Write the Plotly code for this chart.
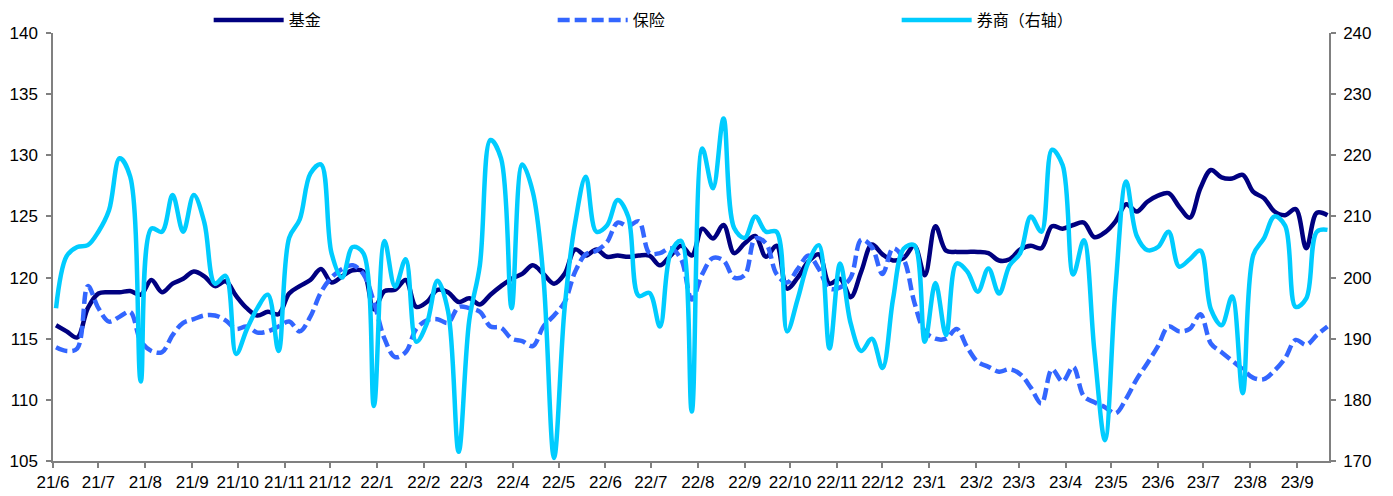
import pandas as pd
import plotly.graph_objects as go

# weekly dates
dates = pd.date_range("2021-06-06", periods=121, freq="7D")

fund = [116.1, 115.6, 115.1, 117.5, 118.7, 118.8, 118.8, 118.9, 118.6, 119.8,
        118.8, 119.5, 119.9, 120.5, 120.1, 119.3, 119.7, 118.5, 117.5, 116.9,
        117.2, 117.0, 118.7, 119.3, 119.8, 120.7, 119.6, 120.1, 120.6, 120.5,
        117.4, 118.9, 119.0, 119.8, 117.6, 118.0, 119.0, 118.8, 118.0, 118.3,
        117.8, 118.6, 119.3, 119.9, 120.3, 121.0, 120.3, 119.5, 120.3, 122.3,
        121.8, 122.3, 121.7, 121.8, 121.7, 121.8, 121.8, 121.0, 121.8, 122.6,
        121.8, 124.0, 123.2, 124.3, 122.0, 122.8, 123.4, 121.7, 122.6, 119.1,
        120.0, 121.3, 121.9, 119.5, 119.9,
        118.4, 120.5, 122.7, 121.9, 121.4, 121.6, 122.6, 120.2, 124.2, 122.2,
        122.1, 122.1, 122.1, 122.0, 121.4,
        121.5, 122.3, 122.6, 122.4, 124.2, 124.0, 124.3, 124.5, 123.3, 123.7,
        124.6, 126.0, 125.4, 126.2, 126.7,
        126.9, 125.8, 124.9, 127.3, 128.8, 128.2, 128.1, 128.4, 127.0, 126.5,
        125.4, 125.1, 125.6, 122.4, 125.3, 125.1]

insurance = [114.3, 114.0, 114.2, 119.3, 117.5, 116.4, 116.8, 117.2, 114.8, 114.0,
             113.9, 115.3, 116.3, 116.6, 116.9, 116.9, 116.5, 115.8, 116.0, 115.5,
             115.6, 116.0, 116.4, 115.6, 116.8, 118.8, 120.0, 120.7, 121.0, 120.3,
             118.0, 115.0, 113.5, 113.9, 115.8, 116.5, 116.6, 116.3, 117.6, 117.5,
             117.2, 116.0, 115.9, 115.0, 114.8, 114.4, 116.0, 116.9, 118.0, 120.5,
             121.9, 122.2, 122.9, 124.5, 124.2, 124.6, 122.0, 122.0, 122.4, 121.5,
             118.2, 120.3, 121.6, 121.4, 120.0, 120.2, 123.2, 122.8, 120.3, 119.6,
             120.7, 121.8, 120.7, 119.1, 119.2,
             120.0, 123.1, 122.5, 120.3, 122.4, 121.5, 118.0, 115.6, 115.0, 115.0,
             115.8, 114.3, 113.1, 112.7, 112.3,
             112.5, 112.1, 111.0, 109.7, 112.5, 111.5, 112.7, 110.3, 109.8, 109.4,
             108.9, 110.1, 111.7, 113.0, 114.4,
             116.0, 115.6, 115.8, 117.0, 114.6, 113.9, 113.2, 112.5, 111.8, 111.7,
             112.4, 113.4, 114.9, 114.5, 115.3, 116.0]

broker = [195.0, 203.5, 205.0, 205.3, 207.5, 211.0, 219.5, 216.5, 183.0, 208.0,
          207.5, 213.5, 207.5, 213.5, 209.0, 199.0, 200.3, 187.5, 191.5, 195.0,
          197.2, 188.0, 206.5, 209.5, 217.0, 218.5, 204.0, 200.0, 205.0, 204.0,
          179.0, 206.0, 198.5, 203.0, 189.5, 192.5, 199.5, 194.5, 171.5, 193.0,
          202.0, 222.5, 219.5, 195.0, 218.5, 214.0, 200.0, 170.5, 195.0, 209.0,
          216.5, 207.5, 208.5, 212.7, 210.0, 197.0, 197.5, 192.0, 204.0, 206.0,
          178.1, 221.1, 214.6, 226.0, 208.1, 206.5, 210.0, 207.5, 207.5, 191.2,
          196.5, 202.5, 205.3, 188.4, 202.3,
          192.5, 188.0, 190.0, 185.2, 196.5, 204.7, 205.3, 189.5, 199.1, 190.6,
          202.3, 201.0, 197.7, 201.5, 197.4,
          202.0, 204.0, 210.0, 207.5, 220.9, 218.4, 200.5, 206.1, 188.0, 173.4,
          198.5, 215.7, 206.8, 204.5, 205.0,
          207.5, 201.8, 203.0, 204.4, 194.8, 192.2, 196.9, 181.1, 203.7, 206.4,
          210.0, 208.5, 195.2, 196.6, 207.5, 207.8]

tick_labels = ["21/6", "21/7", "21/8", "21/9", "21/10", "21/11", "21/12",
               "22/1", "22/2", "22/3", "22/4", "22/5", "22/6", "22/7", "22/8",
               "22/9", "22/10", "22/11", "22/12", "23/1", "23/2", "23/3",
               "23/4", "23/5", "23/6", "23/7", "23/8", "23/9"]
tick_dates = pd.date_range("2021-06-04", periods=len(tick_labels),
                           freq=pd.DateOffset(months=1))

names = ["基金", "保险", "券商（右轴）"]

fig = go.Figure()
fig.add_trace(go.Scatter(x=dates, y=fund, name=names[0], mode="lines",
                         line=dict(color="#000080", width=4.5, shape="spline", smoothing=1)))
fig.add_trace(go.Scatter(x=dates, y=insurance, name=names[1], mode="lines",
                         line=dict(color="#3366FF", width=4.5, dash="12px,5px",
                                   shape="spline", smoothing=1)))
fig.add_trace(go.Scatter(x=dates, y=broker, name=names[2], mode="lines", yaxis="y2",
                         line=dict(color="#00CCFF", width=4.5, shape="spline", smoothing=1)))

axis_font = dict(family="Liberation Sans, Arial, sans-serif", size=17, color="#000000")

fig.update_layout(
    width=1393, height=496,
    margin=dict(l=45, r=72, t=25, b=43, autoexpand=False),
    plot_bgcolor="white", paper_bgcolor="white",
    showlegend=True,
    legend=dict(orientation="h", x=0.122, xanchor="left", y=1.03, yanchor="middle",
                entrywidth=259, entrywidthmode="pixels", itemwidth=70,
                font=dict(family="Noto Sans CJK SC", size=16, color="#000000"),
                bgcolor="rgba(0,0,0,0)"),
    xaxis=dict(type="date", range=[pd.Timestamp("2021-06-04"), pd.Timestamp("2023-09-25")],
               tickvals=tick_dates, ticktext=tick_labels, tickangle=0,
               showgrid=False, zeroline=False,
               showline=True, linecolor="#808080", linewidth=1.5,
               ticks="outside", ticklen=5, tickcolor="#808080", tickwidth=1.5,
               tickfont=axis_font),
    yaxis=dict(range=[105, 140], dtick=5, showgrid=False, zeroline=False,
               showline=True, linecolor="#808080", linewidth=1.5,
               ticks="outside", ticklen=5, tickcolor="#808080", tickwidth=1.5,
               tickfont=axis_font, ticklabelstandoff=5),
    yaxis2=dict(range=[170, 240], dtick=10, overlaying="y", side="right",
                showgrid=False, zeroline=False,
                showline=True, linecolor="#808080", linewidth=1.5,
                ticks="outside", ticklen=5, tickcolor="#808080", tickwidth=1.5,
                tickfont=axis_font, ticklabelstandoff=4),
)

fig.write_html("out.html")
